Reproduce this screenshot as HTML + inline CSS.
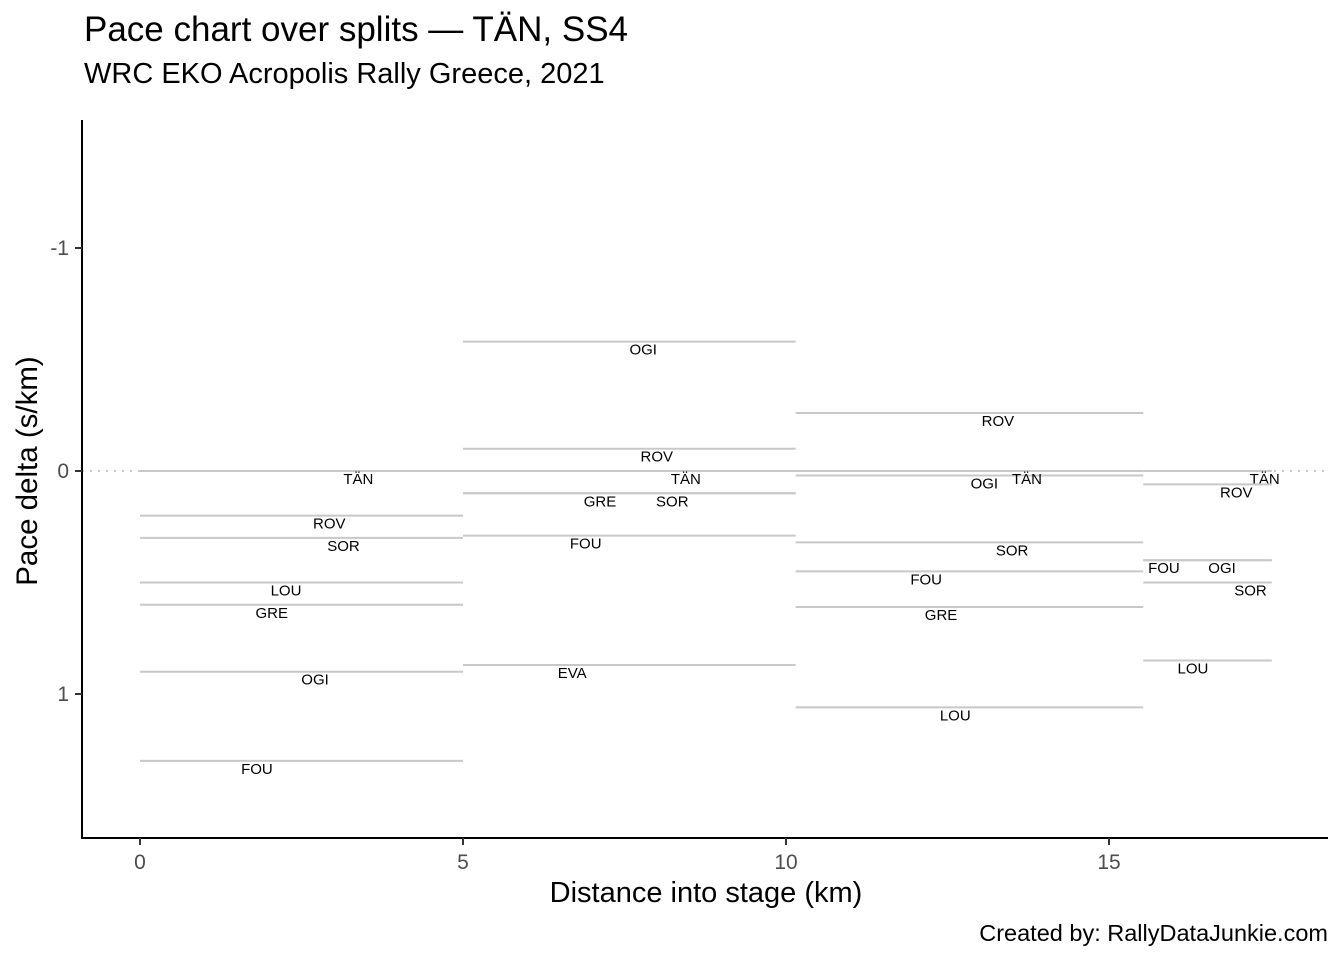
<!DOCTYPE html>
<html><head><meta charset="utf-8"><style>
body{margin:0;background:#fff;font-family:"Liberation Sans",Arial,sans-serif;}
</style></head><body>
<svg id="chart" width="1344" height="960" xmlns="http://www.w3.org/2000/svg" font-family="Liberation Sans, Arial, sans-serif">
<text x="84" y="41" font-size="35" fill="#000">Pace chart over splits — TÄN, SS4</text>
<text x="84" y="83" font-size="29" fill="#000">WRC EKO Acropolis Rally Greece, 2021</text>
<g id="plot"></g>
<text x="706" y="902" font-size="29" text-anchor="middle" fill="#000">Distance into stage (km)</text>
<text transform="translate(37,471) rotate(-90)" font-size="29.5" text-anchor="middle" fill="#000">Pace delta (s/km)</text>
<text x="1328" y="941" font-size="23.5" text-anchor="end" fill="#000">Created by: RallyDataJunkie.com</text>
</svg>
<script>
const splitStart=[0,5,10.15,15.53];
const splitEnd=[5,10.15,15.53,17.52];
const segIndex=[0,0,0,0,0,0,0, 1,1,1,1,1,1,1, 2,2,2,2,2,2,2, 3,3,3,3,3,3];
const drivers=["TÄN","ROV","SOR","LOU","GRE","OGI","FOU", "OGI","ROV","TÄN","GRE","SOR","FOU","EVA", "ROV","OGI","TÄN","SOR","FOU","GRE","LOU", "TÄN","ROV","FOU","OGI","SOR","LOU"];
const paceDelta=[0,0.2,0.3,0.5,0.6,0.9,1.3, -0.58,-0.1,0,0.1,0.1,0.29,0.87, -0.26,0.02,0,0.32,0.45,0.61,1.06, 0,0.06,0.4,0.4,0.5,0.85];
const labelKm=[3.38,2.93,3.15,2.26,2.04,2.71,1.81, 7.79,8.0,8.45,7.12,8.24,6.9,6.69, 13.28,13.07,13.73,13.5,12.17,12.4,12.62, 17.41,16.97,15.85,16.75,17.19,16.3];
const xTicks=[0,5,10,15];
const yTicks=[-1,0,1];
const NS="http://www.w3.org/2000/svg";
const X=v=>140+v*64.6;
const Y=v=>471+v*223;
const g=document.getElementById('plot');
function mk(t,a){const e=document.createElementNS(NS,t);for(const k in a)e.setAttribute(k,a[k]);g.appendChild(e);return e;}
let e=mk('line',{x1:82,x2:1328,y1:Y(0),y2:Y(0),stroke:'#cccccc','stroke-width':2,'stroke-dasharray':'2,6'});


paceDelta.forEach((v,i)=>{
 const s=segIndex[i];
 const l=mk('line',{x1:X(splitStart[s]),x2:X(splitEnd[s]),y1:Y(v),y2:Y(v),stroke:'#c8c8c8','stroke-width':2});
 
 
 const t=mk('text',{x:X(labelKm[i]),y:Y(v)+13,'font-size':15,'text-anchor':'middle',fill:'#000'});
 t.textContent=drivers[i];
 
 
});
e=mk('line',{x1:82,x2:82,y1:120,y2:839,stroke:'#000','stroke-width':2});


e=mk('line',{x1:81,x2:1328,y1:838,y2:838,stroke:'#000','stroke-width':2});


xTicks.forEach(v=>{
 const k=mk('line',{x1:X(v),x2:X(v),y1:838,y2:845,stroke:'#333','stroke-width':2});
 
 
 const t=mk('text',{x:X(v),y:869,'font-size':21,'text-anchor':'middle',fill:'#4d4d4d'});
 t.textContent=v;
 
 
});
yTicks.forEach(v=>{
 const k=mk('line',{x1:75,x2:82,y1:Y(v),y2:Y(v),stroke:'#333','stroke-width':2});
 
 
 const t=mk('text',{x:69,y:Y(v)+7,'font-size':21,'text-anchor':'end',fill:'#4d4d4d'});
 t.textContent=v;
 
 
});
</script>
</body></html>
